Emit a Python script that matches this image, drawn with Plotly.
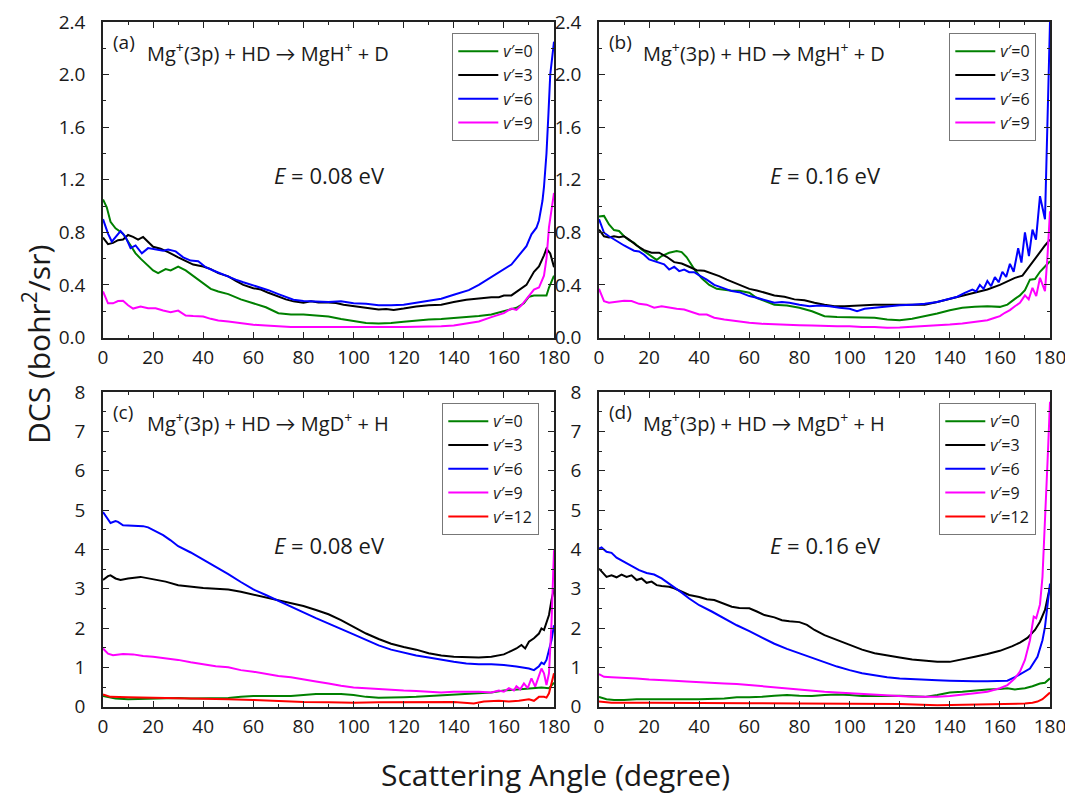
import plotly.graph_objects as go

# ---------------- panel (a): MgH+ + D, E = 0.08 eV ----------------
A_V0_X = [0, 1.5, 3, 5, 8, 10, 13, 15, 18, 20, 22, 25, 27, 30, 33, 36, 40, 43, 46, 50, 55, 60, 65, 70, 75, 80, 85, 90, 95, 100,
          105, 110, 115, 120, 125, 130, 135, 140, 145, 150, 155, 160, 165, 168, 170, 172, 175, 177, 178, 180]
A_V0_Y = [1.05, 0.99, 0.88, 0.83, 0.79, 0.73, 0.64, 0.60, 0.55, 0.51, 0.49, 0.52, 0.51, 0.54, 0.51, 0.47, 0.41, 0.37, 0.35, 0.33,
          0.29, 0.26, 0.23, 0.185, 0.175, 0.175, 0.17, 0.16, 0.14, 0.125, 0.11, 0.107, 0.11, 0.12, 0.13, 0.137, 0.14, 0.147, 0.155, 0.163,
          0.175, 0.20, 0.226, 0.26, 0.31, 0.32, 0.32, 0.32, 0.38, 0.47]
A_V3_X = [0, 2, 4, 6, 8, 10, 12, 14, 16, 18, 20, 23, 26, 30, 33, 36, 40, 43, 46, 50, 53, 56, 60, 63, 66, 70, 73, 76, 80, 83,
          86, 90, 93, 96, 100, 103, 106, 110, 113, 116, 120, 125, 130, 135, 140, 145, 150, 155, 158, 160, 163, 166, 169, 172, 174,
          176, 177, 178.5, 180]
A_V3_Y = [0.76, 0.71, 0.72, 0.74, 0.745, 0.78, 0.765, 0.745, 0.765, 0.73, 0.69, 0.675, 0.65, 0.61, 0.58, 0.555, 0.54, 0.52, 0.49, 0.465,
          0.43, 0.40, 0.375, 0.365, 0.34, 0.31, 0.29, 0.275, 0.265, 0.275, 0.267, 0.267, 0.262, 0.25, 0.24, 0.23, 0.226, 0.213, 0.216, 0.21,
          0.22, 0.236, 0.246, 0.25, 0.27, 0.287, 0.297, 0.307, 0.307, 0.32, 0.32, 0.36, 0.40, 0.50, 0.54, 0.625, 0.675, 0.64, 0.535]
A_V6_X = [0, 2, 3.5, 5, 7, 9, 11, 13, 15.5, 18, 21, 24, 26, 29, 32, 35, 38, 41, 44, 47, 50, 53, 56, 60, 63, 66, 70, 73, 76, 80,
          85, 90, 95, 100, 105, 110, 115, 120, 125, 130, 135, 140, 143, 146, 150, 153, 156, 160, 163, 166, 169, 171, 173, 174, 175.4,
          176, 177, 177.8, 178.5, 180]
A_V6_Y = [0.90, 0.79, 0.73, 0.765, 0.81, 0.765, 0.68, 0.70, 0.64, 0.68, 0.67, 0.66, 0.67, 0.655, 0.61, 0.585, 0.58, 0.535, 0.51, 0.485,
          0.465, 0.44, 0.42, 0.395, 0.38, 0.36, 0.33, 0.31, 0.287, 0.277, 0.275, 0.27, 0.275, 0.26, 0.257, 0.245, 0.246, 0.25, 0.264, 0.28,
          0.295, 0.325, 0.345, 0.36, 0.40, 0.435, 0.47, 0.515, 0.555, 0.625, 0.695, 0.785, 0.835, 0.89, 1.04, 1.145, 1.40, 1.71, 2.0, 2.25]
A_V9_X = [0, 2, 4, 6, 8, 10, 12, 15, 18, 21, 24, 27, 30, 33, 36, 40, 43, 46, 50, 55, 60, 65, 70, 75, 80, 85, 90, 95, 100, 105,
          110, 115, 120, 125, 130, 135, 140, 145, 150, 155, 160, 163, 165, 167, 170, 172, 174, 175, 176, 177, 178, 180]
A_V9_Y = [0.35, 0.26, 0.26, 0.277, 0.28, 0.245, 0.22, 0.236, 0.223, 0.223, 0.205, 0.193, 0.205, 0.167, 0.163, 0.16, 0.142, 0.13, 0.122, 0.11,
          0.097, 0.091, 0.084, 0.079, 0.079, 0.079, 0.074, 0.079, 0.074, 0.079, 0.076, 0.074, 0.079, 0.081, 0.081, 0.086, 0.091, 0.104, 0.122, 0.155,
          0.185, 0.22, 0.21, 0.245, 0.32, 0.365, 0.38, 0.42, 0.47, 0.60, 0.84, 1.10]

# ---------------- panel (b): MgH+ + D, E = 0.16 eV ----------------
B_V0_X = [0, 2, 4, 6, 8, 10, 12, 14, 17, 20, 23, 25, 28, 31, 33, 35, 38, 41, 44, 47, 50, 53, 56, 60, 63, 66, 70, 75, 80, 85,
          90, 95, 100, 105, 110, 115, 120, 125, 130, 135, 140, 145, 150, 155, 160, 163, 166, 168, 170, 172, 174, 176, 178, 180]
B_V0_Y = [0.92, 0.925, 0.86, 0.817, 0.81, 0.77, 0.74, 0.72, 0.67, 0.63, 0.59, 0.62, 0.645, 0.657, 0.65, 0.61, 0.52, 0.45, 0.40, 0.37,
          0.36, 0.355, 0.355, 0.34, 0.30, 0.277, 0.25, 0.243, 0.226, 0.20, 0.162, 0.155, 0.155, 0.155, 0.15, 0.137, 0.132, 0.142, 0.162, 0.183,
          0.208, 0.226, 0.233, 0.238, 0.233, 0.25, 0.294, 0.32, 0.36, 0.44, 0.445, 0.50, 0.54, 0.58]
B_V3_X = [0, 2, 4, 6, 8, 10, 12, 15, 18, 21, 24, 27, 30, 33, 36, 39, 42, 45, 48, 51, 54, 57, 60, 63, 66, 70, 74, 78, 82, 86,
          90, 94, 98, 102, 106, 110, 115, 120, 125, 130, 135, 140, 145, 150, 155, 160, 163, 166, 169, 172, 175, 178, 180]
B_V3_Y = [0.82, 0.77, 0.76, 0.77, 0.763, 0.77, 0.745, 0.70, 0.665, 0.645, 0.645, 0.614, 0.573, 0.563, 0.538, 0.512, 0.507, 0.49, 0.467, 0.44,
          0.416, 0.39, 0.37, 0.358, 0.34, 0.32, 0.31, 0.29, 0.284, 0.264, 0.25, 0.238, 0.238, 0.243, 0.25, 0.25, 0.25, 0.25, 0.25, 0.25,
          0.27, 0.294, 0.32, 0.34, 0.365, 0.40, 0.43, 0.454, 0.47, 0.548, 0.62, 0.70, 0.745]
B_V6_X = [0, 2, 4, 6, 8, 10, 12, 14, 16, 18, 20, 22, 24, 26, 28, 30, 32, 34, 36, 38, 40, 43, 46, 50, 53, 56, 60, 63, 66, 70,
          73, 76, 80, 84, 88, 92, 96, 100, 103, 106, 110, 113, 116, 120, 125, 130, 135, 140, 143, 146, 149, 150.5, 152, 153.5, 155,
          156.5, 158, 159.5, 161, 162.5, 164, 165.5, 167.3, 168.6, 170, 171.6, 173, 174.4, 176, 178, 179, 180]
B_V6_Y = [0.90, 0.797, 0.77, 0.746, 0.72, 0.70, 0.68, 0.66, 0.655, 0.63, 0.594, 0.58, 0.568, 0.556, 0.517, 0.538, 0.505, 0.517, 0.497, 0.497,
          0.472, 0.44, 0.40, 0.37, 0.353, 0.345, 0.315, 0.302, 0.284, 0.264, 0.27, 0.264, 0.25, 0.238, 0.243, 0.238, 0.226, 0.218, 0.20, 0.218,
          0.226, 0.233, 0.238, 0.246, 0.25, 0.256, 0.27, 0.294, 0.31, 0.34, 0.365, 0.35, 0.40, 0.37, 0.43, 0.39, 0.46, 0.42, 0.50, 0.46,
          0.56, 0.50, 0.68, 0.57, 0.80, 0.62, 0.82, 0.745, 1.075, 0.90, 1.6, 2.4]
B_V9_X = [0, 2, 4, 7, 10, 13, 16, 19, 22, 25, 28, 31, 34, 37, 40, 43, 46, 50, 55, 60, 65, 70, 75, 80, 85, 90, 95, 100, 105, 110,
          115, 120, 125, 130, 135, 140, 145, 150, 155, 158, 160, 162, 164, 166, 168, 170, 171.5, 173, 174.5, 176, 178, 179, 180]
B_V9_Y = [0.37, 0.277, 0.264, 0.27, 0.28, 0.277, 0.256, 0.25, 0.226, 0.238, 0.226, 0.218, 0.213, 0.193, 0.175, 0.175, 0.15, 0.137, 0.124, 0.112,
          0.104, 0.099, 0.099, 0.094, 0.091, 0.086, 0.086, 0.086, 0.079, 0.079, 0.074, 0.076, 0.081, 0.086, 0.091, 0.099, 0.107, 0.117, 0.132, 0.15,
          0.162, 0.188, 0.208, 0.238, 0.264, 0.32, 0.29, 0.378, 0.315, 0.454, 0.353, 0.62, 0.96]

# ---------------- panel (c): MgD+ + H, E = 0.08 eV ----------------
C_V0_X = [0, 5, 10, 15, 20, 25, 30, 35, 40, 45, 50, 55, 60, 65, 70, 75, 80, 85, 90, 95, 100, 105, 110, 115, 120, 125, 130, 135,
          140, 145, 150, 155, 160, 165, 170, 175, 178, 180]
C_V0_Y = [0.27, 0.21, 0.19, 0.20, 0.20, 0.21, 0.22, 0.21, 0.21, 0.21, 0.22, 0.25, 0.27, 0.27, 0.27, 0.27, 0.30, 0.32, 0.32, 0.32,
          0.30, 0.25, 0.23, 0.23, 0.24, 0.25, 0.27, 0.29, 0.30, 0.32, 0.34, 0.36, 0.41, 0.44, 0.47, 0.49, 0.47, 0.61]
C_V3_X = [0, 2, 3, 5, 7, 10, 15, 20, 25, 30, 35, 40, 45, 50, 55, 60, 65, 70, 75, 80, 85, 90, 95, 100, 105, 110, 115, 120, 125,
          130, 135, 140, 145, 150, 155, 160, 163, 165, 167, 168.5, 170, 172, 174, 175, 176, 177, 178, 179, 180]
C_V3_Y = [3.22, 3.32, 3.34, 3.26, 3.22, 3.26, 3.30, 3.24, 3.18, 3.09, 3.05, 3.02, 3.00, 2.98, 2.92, 2.85, 2.78, 2.71, 2.64, 2.56,
          2.46, 2.35, 2.20, 2.03, 1.86, 1.72, 1.60, 1.52, 1.45, 1.36, 1.30, 1.27, 1.26, 1.25, 1.27, 1.33, 1.42, 1.48, 1.57, 1.48,
          1.65, 1.74, 1.86, 1.99, 1.95, 2.12, 2.33, 2.71, 3.0]
C_V6_X = [0, 3, 5, 6, 8, 12, 16, 18, 20, 24, 27, 30, 35, 40, 45, 50, 55, 60, 65, 70, 75, 80, 85, 90, 95, 100, 105, 110, 115,
          120, 125, 130, 135, 140, 145, 150, 155, 160, 165, 170, 172, 174, 175, 176, 177, 178, 179, 180]
C_V6_Y = [4.95, 4.67, 4.72, 4.70, 4.61, 4.60, 4.59, 4.56, 4.49, 4.36, 4.23, 4.08, 3.92, 3.74, 3.55, 3.37, 3.17, 2.98, 2.84, 2.70,
          2.55, 2.40, 2.25, 2.12, 1.98, 1.84, 1.70, 1.56, 1.45, 1.37, 1.30, 1.25, 1.19, 1.14, 1.10, 1.08, 1.08, 1.06, 1.02, 0.97,
          0.93, 1.03, 1.12, 1.08, 1.19, 1.44, 1.69, 2.07]
C_V9_X = [0, 2, 4, 8, 12, 16, 20, 25, 30, 35, 40, 45, 50, 55, 60, 65, 70, 75, 80, 85, 90, 95, 100, 105, 110, 115, 120, 125,
          130, 135, 140, 145, 150, 155, 158, 160, 162, 164, 165, 166.5, 168, 169.5, 171, 172.5, 174, 175, 176, 177, 178, 179, 180]
C_V9_Y = [1.48, 1.35, 1.31, 1.34, 1.33, 1.29, 1.27, 1.23, 1.19, 1.13, 1.08, 1.03, 1.00, 0.93, 0.89, 0.83, 0.78, 0.75, 0.69, 0.64,
          0.59, 0.53, 0.49, 0.47, 0.44, 0.42, 0.41, 0.40, 0.38, 0.36, 0.38, 0.38, 0.38, 0.36, 0.41, 0.38, 0.47, 0.41, 0.52, 0.44,
          0.59, 0.47, 0.72, 0.51, 0.76, 0.97, 0.85, 0.55, 0.85, 2.12, 3.98]
C_V12_X = [0, 3, 10, 20, 30, 40, 50, 60, 70, 80, 90, 100, 110, 120, 130, 140, 148, 152, 158, 162, 166, 170, 172, 174, 176,
           177, 178, 180]
C_V12_Y = [0.31, 0.25, 0.24, 0.23, 0.22, 0.21, 0.19, 0.17, 0.14, 0.12, 0.11, 0.10, 0.11, 0.11, 0.11, 0.12, 0.08, 0.13, 0.15, 0.13,
           0.15, 0.19, 0.15, 0.25, 0.25, 0.23, 0.34, 0.85]

# ---------------- panel (d): MgD+ + H, E = 0.16 eV ----------------
D_V0_X = [0, 3, 6, 10, 15, 20, 30, 40, 50, 55, 60, 65, 70, 75, 80, 85, 90, 95, 100, 105, 110, 115, 120, 125, 130, 135, 140,
          145, 150, 155, 160, 163, 166, 170, 173, 176, 178, 180]
D_V0_Y = [0.25, 0.19, 0.17, 0.17, 0.19, 0.19, 0.19, 0.19, 0.21, 0.24, 0.24, 0.25, 0.28, 0.30, 0.28, 0.27, 0.30, 0.31, 0.30, 0.27,
          0.28, 0.27, 0.28, 0.27, 0.25, 0.30, 0.36, 0.38, 0.41, 0.44, 0.45, 0.47, 0.44, 0.47, 0.52, 0.59, 0.61, 0.72]
D_V3_X = [0, 1, 3, 5, 7, 9, 11, 13, 15, 17, 19, 21, 23, 25, 28, 30, 33, 36, 40, 43, 46, 50, 53, 56, 60, 63, 66, 70, 73, 76,
          80, 83, 86, 90, 95, 100, 105, 110, 115, 120, 125, 130, 135, 140, 145, 150, 155, 160, 165, 168, 171, 174, 176, 178, 180]
D_V3_Y = [3.51, 3.43, 3.30, 3.34, 3.29, 3.36, 3.30, 3.34, 3.22, 3.26, 3.15, 3.18, 3.09, 3.07, 3.05, 3.01, 2.92, 2.84, 2.79, 2.73,
          2.71, 2.62, 2.54, 2.51, 2.50, 2.42, 2.33, 2.27, 2.20, 2.17, 2.15, 2.08, 1.95, 1.82, 1.70, 1.57, 1.45, 1.36, 1.30, 1.25,
          1.20, 1.17, 1.14, 1.14, 1.20, 1.27, 1.34, 1.42, 1.54, 1.63, 1.75, 1.95, 2.16, 2.46, 3.05]
D_V6_X = [0, 1, 3, 5, 7, 10, 13, 16, 19, 22, 25, 28, 30, 33, 36, 40, 45, 50, 55, 60, 65, 70, 75, 80, 85, 90, 95, 100, 105,
          110, 115, 120, 125, 130, 135, 140, 145, 150, 155, 160, 163, 166, 169, 172, 175, 177, 178, 179, 180]
D_V6_Y = [4.02, 4.05, 3.94, 3.91, 3.79, 3.68, 3.57, 3.47, 3.40, 3.36, 3.26, 3.13, 3.03, 2.90, 2.75, 2.58, 2.42, 2.24, 2.07, 1.92,
          1.76, 1.60, 1.47, 1.36, 1.25, 1.13, 1.02, 0.93, 0.85, 0.80, 0.75, 0.72, 0.70, 0.68, 0.67, 0.66, 0.65, 0.65, 0.65, 0.65,
          0.66, 0.75, 0.85, 0.97, 1.27, 1.69, 2.03, 2.54, 3.13]
D_V9_X = [0, 2, 5, 10, 15, 20, 25, 30, 35, 40, 45, 50, 55, 60, 65, 70, 75, 80, 85, 90, 95, 100, 105, 110, 115, 120, 125, 130,
          135, 140, 145, 150, 155, 160, 163, 166, 168, 170, 172, 173.5, 174.5, 176, 177, 178, 179, 180]
D_V9_Y = [0.83, 0.76, 0.75, 0.74, 0.72, 0.69, 0.68, 0.66, 0.64, 0.62, 0.61, 0.59, 0.58, 0.55, 0.52, 0.50, 0.47, 0.44, 0.41, 0.38,
          0.36, 0.34, 0.32, 0.30, 0.28, 0.27, 0.25, 0.25, 0.25, 0.27, 0.30, 0.34, 0.38, 0.47, 0.55, 0.72, 0.89, 1.19, 1.69, 2.29,
          2.25, 2.6, 3.3, 4.6, 6.2, 7.75]
D_V12_X = [0, 5, 20, 40, 60, 80, 100, 120, 135, 150, 165, 170, 173, 175, 177, 179, 180]
D_V12_Y = [0.13, 0.10, 0.10, 0.10, 0.09, 0.08, 0.08, 0.07, 0.04, 0.06, 0.07, 0.08, 0.10, 0.13, 0.19, 0.30, 0.36]

X_TICKS = [0, 20, 40, 60, 80, 100, 120, 140, 160, 180]
TOP_Y_TICKS = [0.0, 0.4, 0.8, 1.2, 1.6, 2.0, 2.4]
BOTTOM_Y_TICKS = [0, 1, 2, 3, 4, 5, 6, 7, 8]

STATE_COLORS = {0: "#008000", 3: "#000000", 6: "#0000ff", 9: "#ff00ff", 12: "#ff0000"}

PANELS = [
    # label, reaction, energy, axis suffix, legend id, series
    ("(a)", "Mg<sup>+</sup>(3p) + HD → MgH<sup>+</sup> + D", "0.08", "", "legend",
     [(0, A_V0_X, A_V0_Y), (3, A_V3_X, A_V3_Y), (6, A_V6_X, A_V6_Y), (9, A_V9_X, A_V9_Y)]),
    ("(b)", "Mg<sup>+</sup>(3p) + HD → MgH<sup>+</sup> + D", "0.16", "2", "legend2",
     [(0, B_V0_X, B_V0_Y), (3, B_V3_X, B_V3_Y), (6, B_V6_X, B_V6_Y), (9, B_V9_X, B_V9_Y)]),
    ("(c)", "Mg<sup>+</sup>(3p) + HD → MgD<sup>+</sup> + H", "0.08", "3", "legend3",
     [(0, C_V0_X, C_V0_Y), (3, C_V3_X, C_V3_Y), (6, C_V6_X, C_V6_Y), (9, C_V9_X, C_V9_Y), (12, C_V12_X, C_V12_Y)]),
    ("(d)", "Mg<sup>+</sup>(3p) + HD → MgD<sup>+</sup> + H", "0.16", "4", "legend4",
     [(0, D_V0_X, D_V0_Y), (3, D_V3_X, D_V3_Y), (6, D_V6_X, D_V6_Y), (9, D_V9_X, D_V9_Y), (12, D_V12_X, D_V12_Y)]),
]

W, H = 1065, 794
FONT = "Open Sans, Lato, sans-serif"
INK = "#1a1a1a"

# plot-area edges in pixels: left/right columns, top/bottom rows
COLS = [(103, 554), (599, 1050)]
ROWS = [(22, 337.5), (392, 706.7)]


def px(x):
    return x / W


def py(y):
    return 1 - y / H


fig = go.Figure()

for idx, (label, reaction, energy, sfx, leg, series) in enumerate(PANELS):
    for v, xs, ys in series:
        fig.add_trace(go.Scatter(
            x=xs, y=ys, mode="lines", name=f"<i>v</i>′={v}",
            line=dict(color=STATE_COLORS[v], width=2),
            xaxis="x" + sfx, yaxis="y" + sfx, legend=leg, showlegend=True,
        ))

layout = dict(
    width=W, height=H, autosize=False,
    margin=dict(l=0, r=0, t=0, b=0, pad=0),
    paper_bgcolor="white", plot_bgcolor="white",
    font=dict(family=FONT, color=INK, size=16),
    annotations=[], showlegend=True,
)

for idx, (label, reaction, energy, sfx, leg, series) in enumerate(PANELS):
    col, row = idx % 2, idx // 2
    x0, x1 = COLS[col]
    y0, y1 = ROWS[row]
    top = row == 0
    yticks = TOP_Y_TICKS if top else BOTTOM_Y_TICKS
    common = dict(
        showline=True, linecolor="#222", linewidth=1.5, mirror="ticks",
        ticks="inside", ticklen=6, tickwidth=1.3, tickcolor="#222",
        showgrid=False, zeroline=False, automargin=False, ticklabeloverflow="allow",
        tickfont=dict(family=FONT, size=19, color=INK),
    )
    layout["xaxis" + sfx] = dict(
        common, domain=[px(x0), px(x1)], anchor="y" + sfx, range=[0, 180],
        tickvals=X_TICKS, ticklabelstandoff=2,
        minor=dict(ticks="inside", ticklen=3, tickwidth=1.1, tickcolor="#222", dtick=10, tick0=0),
    )
    layout["yaxis" + sfx] = dict(
        common, domain=[py(y1), py(y0)], anchor="x" + sfx, range=[yticks[0], yticks[-1]],
        tickvals=yticks, tickformat=".1f" if top else "d", ticklabelstandoff=12,
        minor=dict(ticks="inside", ticklen=3, tickwidth=1.1, tickcolor="#222",
                   dtick=0.2 if top else 0.5, tick0=0),
    )
    # legend box in the upper-right corner of each panel
    legend_right = 539 if col == 0 else 1036
    legend_top = y0 + 11
    layout[leg] = dict(
        x=px(legend_right), y=py(legend_top), xanchor="right", yanchor="top",
        bgcolor="white", bordercolor="#777", borderwidth=1.3,
        font=dict(family=FONT, size=16, color=INK),
        tracegroupgap=0, itemwidth=40,
    )
    # panel letter, reaction and collision energy
    layout["annotations"] += [
        dict(text=label, x=px(x0 + 8), y=py(y0 + 20), xref="paper", yref="paper",
             xanchor="left", yanchor="middle", showarrow=False,
             font=dict(family=FONT, size=19, color=INK)),
        dict(text=reaction, x=px(x0 + 42), y=py(y0 + 30), xref="paper", yref="paper",
             xanchor="left", yanchor="middle", showarrow=False,
             font=dict(family=FONT, size=20, color=INK)),
        dict(text=f"<i>E</i> = {energy} eV", x=px(x0 + 226), y=py(y0 + 153), xref="paper", yref="paper",
             xanchor="center", yanchor="middle", showarrow=False,
             font=dict(family=FONT, size=22, color=INK)),
    ]

# shared axis titles
layout["annotations"] += [
    dict(text="DCS (bohr<sup>2</sup>/sr)", x=px(37), y=py(345), xref="paper", yref="paper",
         textangle=-90, xanchor="center", yanchor="middle", showarrow=False,
         font=dict(family=FONT, size=30, color=INK)),
    dict(text="Scattering Angle (degree)", x=px(555), y=py(774), xref="paper", yref="paper",
         xanchor="center", yanchor="middle", showarrow=False,
         font=dict(family=FONT, size=30, color=INK)),
]

fig.update_layout(**layout)
fig.write_html("out.html")
